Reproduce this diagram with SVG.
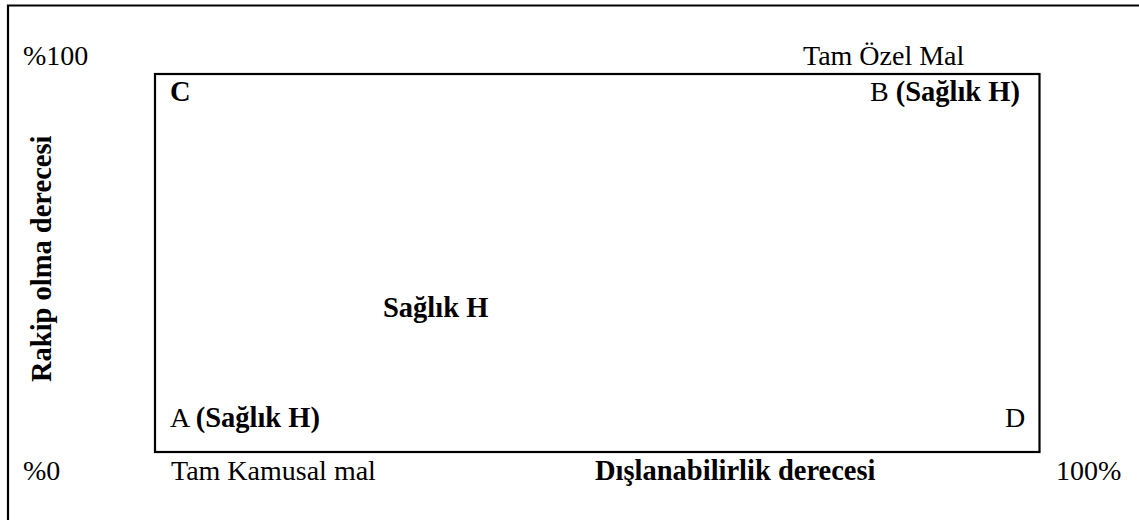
<svg xmlns="http://www.w3.org/2000/svg" width="1139" height="520" viewBox="0 0 1139 520">
<style>
text{font-family:"Liberation Serif","Times New Roman",serif;font-size:28px;fill:#000}
.b{font-weight:bold;font-size:28.5px}
.frame{fill:none;stroke:#000;stroke-width:2.2}
</style>
<rect width="1139" height="520" fill="#fff"/>
<path class="frame" d="M8,520 V5.5 H1139"/>
<g id="chart">
<rect class="frame" x="155" y="74" width="884.5" height="378"/>
</g>
<g id="connectors"/>
<g id="axis-labels">
<text x="23" y="65">%100</text>
<text x="803" y="65">Tam Özel Mal</text>
<text x="23" y="480">%0</text>
<text x="171" y="480">Tam Kamusal mal</text>
<text class="b" x="595" y="480">Dışlanabilirlik derecesi</text>
<text x="1056" y="480">100%</text>
<text class="b" transform="translate(51,382) rotate(-90)">Rakip olma derecesi</text>
</g>
<g id="node-C"><text class="b" x="170" y="101">C</text></g>
<g id="node-B"><text x="870" y="101">B <tspan class="b">(Sağlık H)</tspan></text></g>
<g id="node-mid"><text class="b" x="383" y="317">Sağlık H</text></g>
<g id="node-A"><text x="170" y="427">A <tspan class="b">(Sağlık H)</tspan></text></g>
<g id="node-D"><text x="1005" y="427">D</text></g>
</svg>
